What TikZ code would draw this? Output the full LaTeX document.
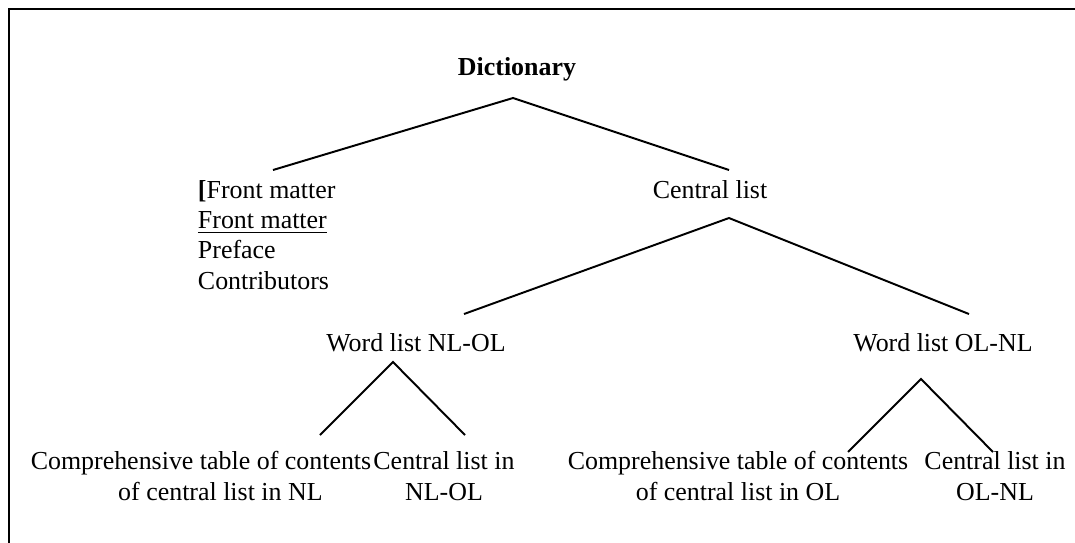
\documentclass[tikz,border=0pt]{standalone}
\usepackage{fontspec}
\setmainfont{Liberation Serif}
\begin{document}
\begin{tikzpicture}[x=0.463pt,y=-0.463pt,line width=0.9pt,
    lbl/.style={anchor=base,align=center,inner sep=0pt,font=\fontsize{12}{13.9}\selectfont}]
    \useasboundingbox (0,0) rectangle (1075,542);
    \clip (0,0) rectangle (1075,542);
    \draw[line width=1.2pt] (9,560) -- (9,9) -- (1090,9);

    % labels, multi-line ones placed by their last baseline
    \node[lbl,font=\fontsize{12}{13.9}\selectfont\bfseries] (dict) at (517,75) {Dictionary};
    \node[lbl,anchor=base west,align=left] (front) at (197,289)
        {\textbf{[}Front matter\\ \underline{Front matter}\\ Preface\\ Contributors};
    \node[lbl] (central) at (710,198) {Central list};
    \node[lbl] (wlnl) at (416,351) {Word list NL-OL};
    \node[lbl] (wlol) at (943,351) {Word list OL-NL};
    \node[lbl] (tocnl) at (201,500) {Comprehensive table of contents\\ \hspace*{18pt}of central list in NL};
    \node[lbl] (cennl) at (444,500) {Central list in\\ NL-OL};
    \node[lbl] (tocol) at (738,500) {Comprehensive table of contents\\ of central list in OL};
    \node[lbl] (cenol) at (995,500) {Central list in\\ OL-NL};

    \coordinate (dict-top) at (513,98);
    \coordinate (front-end) at (273,170);
    \coordinate (central-end) at (729,170);
    \coordinate (central-top) at (729,218);
    \coordinate (wlnl-end) at (464,314);
    \coordinate (wlol-end) at (969,314);
    \coordinate (wlnl-top) at (393,362);
    \coordinate (tocnl-end) at (320,435);
    \coordinate (cennl-end) at (465,435);
    \coordinate (wlol-top) at (921,379);
    \coordinate (tocol-end) at (848,452);
    \coordinate (cenol-end) at (993,452);

    \draw (front-end) -- (dict-top) -- (central-end);
    \draw (wlnl-end) -- (central-top) -- (wlol-end);
    \draw (tocnl-end) -- (wlnl-top) -- (cennl-end);
    \draw (tocol-end) -- (wlol-top) -- (cenol-end);
\end{tikzpicture}
\end{document}
